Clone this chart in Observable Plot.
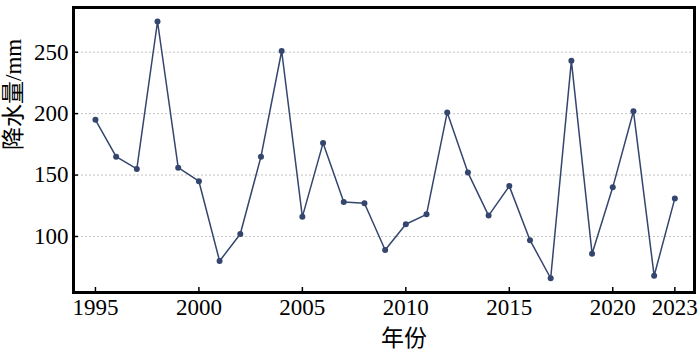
<!DOCTYPE html>
<html>
<head>
<meta charset="utf-8">
<script src="https://cdn.jsdelivr.net/npm/d3@7"></script>
<script src="https://cdn.jsdelivr.net/npm/@observablehq/plot@0.6"></script>
<style>
  html, body { margin: 0; padding: 0; background: #fff; }
  #chart svg { display: block; }
</style>
</head>
<body>
<div id="chart"></div>
<script>
const years = [1995,1996,1997,1998,1999,2000,2001,2002,2003,2004,2005,2006,2007,2008,2009,2010,2011,2012,2013,2014,2015,2016,2017,2018,2019,2020,2021,2022,2023];
const precip = [195,165,155,275,156,145,80,102,165,251,116,176,128,127,89,110,118,201,152,117,141,97,66,243,86,140,202,68,131];
const xTicks = [1995,2000,2005,2010,2015,2020,2023];
const yTicks = [100,150,200,250];
const xTitle = "年份";
const yTitle = "降水量/mm";

const data = years.map((y, i) => ({year: y, value: precip[i]}));
const color = "#34466e";
const font = "'Liberation Serif', 'Times New Roman', 'Noto Sans CJK SC', serif";

const chart = Plot.plot({
  width: 700,
  height: 358,
  marginLeft: 73,
  marginRight: 6,
  marginTop: 7,
  marginBottom: 66,
  style: {fontFamily: font, fontSize: "23px", color: "#000", background: "#fff"},
  x: {domain: [1993.94, 2023.95], label: null},
  y: {domain: [54.4, 286.4], label: null},
  marks: [
    Plot.gridY(yTicks, {stroke: "#c4c4c4", strokeOpacity: 1, strokeDasharray: "2,2", strokeWidth: 1}),
    Plot.axisX(xTicks, {tickSize: -5, text: null, strokeWidth: 1.5}),
    Plot.axisX(xTicks, {tickSize: 0, tickPadding: 6, tickFormat: d => String(d), fontSize: 23, label: null}),
    Plot.axisY(yTicks, {tickSize: -5, text: null, strokeWidth: 1.5}),
    Plot.axisY(yTicks, {tickSize: 0, tickPadding: 5, fontSize: 23, label: null}),
    Plot.line(data, {x: "year", y: "value", stroke: color, strokeWidth: 1.5}),
    Plot.dot(data, {x: "year", y: "value", r: 3, fill: color, stroke: "none"}),
    Plot.frame({stroke: "#000", strokeWidth: 3}),
    Plot.text([xTitle], {frameAnchor: "bottom", dy: 53, dx: 20, fontSize: 23, fill: "#000"}),
    Plot.text([yTitle], {frameAnchor: "left", rotate: -90, dx: -60, fontSize: 23, fill: "#000"})
  ]
});
document.getElementById("chart").appendChild(chart);
</script>
</body>
</html>
